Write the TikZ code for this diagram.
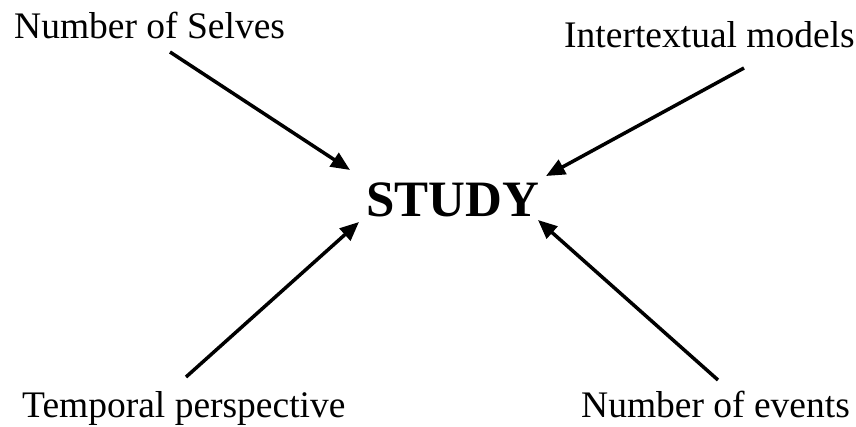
\documentclass[tikz,border=0pt]{standalone}
\usepackage{fontspec}
\setmainfont{Liberation Serif}
\usetikzlibrary{arrows.meta}
\begin{document}
\begin{tikzpicture}[x=1pt,y=-1pt,
  lbl/.style={font=\fontsize{37.5}{44}\selectfont, inner sep=0pt, anchor=base west},
  arr/.style={line width=3.5pt, -{Triangle[length=19pt,width=16pt]}}]
\useasboundingbox (0,0) rectangle (856,426);
\node[lbl] (ns) at (14,38) {Number of Selves};
\node[lbl] (im) at (564,47) {Intertextual models};
\node[lbl] (tp) at (22,417) {Temporal perspective};
\node[lbl] (ne) at (581,417) {Number of events};
\node[font=\fontsize{51}{60}\selectfont\bfseries, inner sep=0pt, anchor=base west] (st) at (366,216) {STUDY};
\coordinate (a1) at (170,52); \coordinate (b1) at (350,170);
\coordinate (a2) at (744,68); \coordinate (b2) at (546,176);
\coordinate (a3) at (186,377); \coordinate (b3) at (359,222);
\coordinate (a4) at (718,380); \coordinate (b4) at (538,220);
\draw[arr] (a1) -- (b1);
\draw[arr] (a2) -- (b2);
\draw[arr] (a3) -- (b3);
\draw[arr] (a4) -- (b4);
\end{tikzpicture}
\end{document}
